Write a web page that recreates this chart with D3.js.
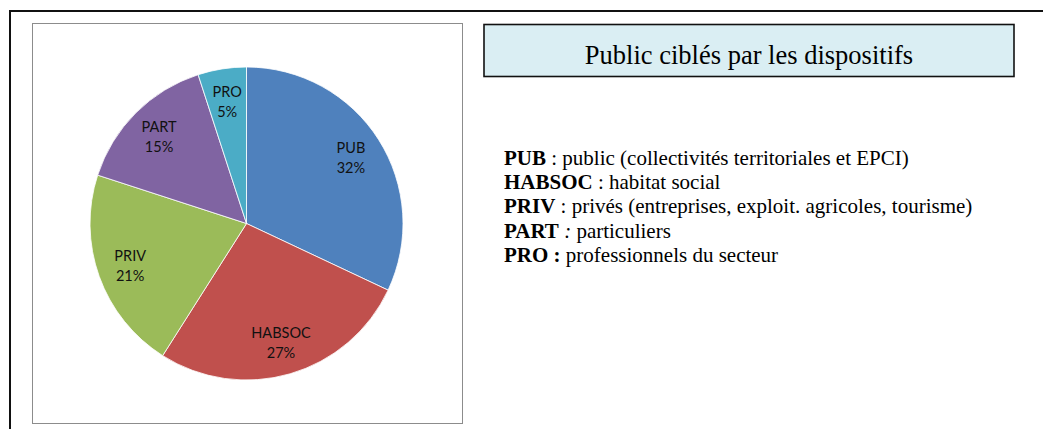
<!DOCTYPE html>
<html>
<head>
<meta charset="utf-8">
<script src="https://cdn.jsdelivr.net/npm/d3@7"></script>
<style>
  html, body { margin: 0; padding: 0; background: #fff; }
  svg { display: block; }
</style>
</head>
<body>
<svg id="chart" width="1043" height="429"></svg>
<script>
// Répartition des publics ciblés (en %)
const categories = ["PUB", "HABSOC", "PRIV", "PART", "PRO"];
const values = [32, 27, 21, 15, 5];
const colors = ["#4F81BD", "#C0504D", "#9BBB59", "#8064A2", "#4BACC6"];

const title = "Public ciblés par les dispositifs";
const legendKeys = ["PUB", "HABSOC", "PRIV", "PART", "PRO"];
const legendSeps = [" : ", " : ", " : ", " : ", " : "];
const legendTexts = [
  "public (collectivités territoriales et EPCI)",
  "habitat social",
  "privés (entreprises, exploit. agricoles, tourisme)",
  "particuliers",
  "professionnels du secteur"
];

const svg = d3.select("#chart");

// Cadre extérieur (bords gauche et haut)
svg.append("path")
  .attr("d", "M10,429 L10,11 L1043,11")
  .attr("fill", "none")
  .attr("stroke", "#111")
  .attr("stroke-width", 2);

// Zone du graphique
svg.append("rect")
  .attr("x", 32.5).attr("y", 23.5)
  .attr("width", 430).attr("height", 400)
  .attr("fill", "#fff")
  .attr("stroke", "#8c8c8c")
  .attr("stroke-width", 1);

// Camembert
const cx = 246.5, cy = 223.5, radius = 156.5;
const pie = d3.pie().sort(null).value(d => d.value);
const arcs = pie(categories.map((c, i) => ({ name: c, value: values[i], color: colors[i] })));
const arc = d3.arc().innerRadius(0).outerRadius(radius);
const labelArc = d3.arc().innerRadius(radius * 0.79).outerRadius(radius * 0.79);

const g = svg.append("g").attr("transform", `translate(${cx},${cy})`);

g.selectAll("path.slice")
  .data(arcs)
  .join("path")
  .attr("class", "slice")
  .attr("d", arc)
  .attr("fill", d => d.data.color)
  .attr("stroke", "#fff")
  .attr("stroke-width", 0.8);

const labels = g.selectAll("text.lbl")
  .data(arcs)
  .join("text")
  .attr("class", "lbl")
  .attr("transform", d => `translate(${labelArc.centroid(d)})`)
  .attr("text-anchor", "middle")
  .attr("font-family", "Lato, 'Open Sans', sans-serif")
  .attr("font-size", 14.5)
  .attr("fill", "#111");

labels.append("tspan")
  .attr("x", 0).attr("y", -4)
  .text(d => d.data.name);
labels.append("tspan")
  .attr("x", 0).attr("y", 16)
  .text(d => d3.format(".0%")(d.value / d3.sum(values)));

// Encadré du titre
svg.append("rect")
  .attr("x", 484).attr("y", 24.5)
  .attr("width", 530).attr("height", 52)
  .attr("fill", "#DAEEF3")
  .attr("stroke", "#111")
  .attr("stroke-width", 1.6);

svg.append("text")
  .attr("x", 749).attr("y", 63.5)
  .attr("text-anchor", "middle")
  .attr("font-family", "'Liberation Serif', 'Times New Roman', serif")
  .attr("font-size", 26.5)
  .attr("fill", "#000")
  .text(title);

// Légende des abréviations
const legend = svg.append("g")
  .attr("font-family", "'Liberation Serif', 'Times New Roman', serif")
  .attr("font-size", 21)
  .attr("fill", "#000");

legendKeys.forEach((k, i) => {
  const t = legend.append("text")
    .attr("x", 504)
    .attr("y", 165 + i * 24.2);
  t.append("tspan").attr("font-weight", "bold").text(k);
  const sep = t.append("tspan").text(legendSeps[i]);
  if (k === "PART") sep.attr("font-style", "italic");
  if (k === "PRO") sep.attr("font-weight", "bold");
  t.append("tspan").text(legendTexts[i]);
});
</script>
</body>
</html>
